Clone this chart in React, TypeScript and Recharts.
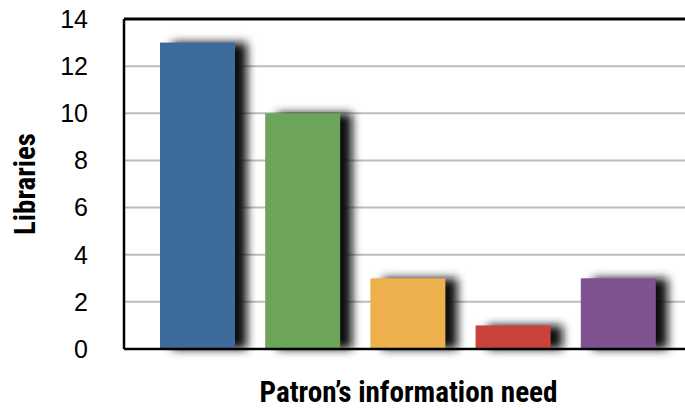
import { BarChart, Bar, XAxis, YAxis, CartesianGrid, ReferenceLine, Cell } from "recharts";

const needs = ["Need A", "Need B", "Need C", "Need D", "Need E"];
const libraries = [13, 10, 3, 1, 3];
const barColors = ["#3c6a9b", "#6ca55a", "#edb04c", "#c9433b", "#7f5290"];
const yTicks = [0, 2, 4, 6, 8, 10, 12, 14];

const data = needs.map((name, i) => ({ name, value: libraries[i] }));

const labelFont = "'Liberation Sans Narrow', 'Roboto Condensed', Roboto, 'Liberation Sans', sans-serif";

function ShadowBar(props: any) {
  const { x, y, width, height, fill } = props;
  return (
    <g>
      <rect x={x} y={y} width={width} height={height} fill="#111" filter="url(#barShadow)" />
      <rect x={x} y={y} width={width} height={height} fill={fill} />
    </g>
  );
}

function XLabel(props: any) {
  const vb = props.viewBox || {};
  return (
    <text
      x={vb.x + vb.width / 2 + 4}
      y={402}
      textAnchor="middle"
      fontFamily={labelFont}
      fontWeight={700}
      fontSize={29}
      textLength={298}
      lengthAdjust="spacingAndGlyphs"
      fill="#000"
    >
      Patron’s information need
    </text>
  );
}

function YLabel() {
  return (
    <text
      x={0}
      y={0}
      transform="translate(35,184) rotate(-90)"
      textAnchor="middle"
      fontFamily={labelFont}
      fontWeight={700}
      fontSize={29}
      textLength={102}
      lengthAdjust="spacingAndGlyphs"
      fill="#000"
    >
      Libraries
    </text>
  );
}

export default function App() {
  return (
    <div style={{ position: "absolute", left: 0, top: 0, background: "#fff" }}>
      <BarChart
        width={685}
        height={408}
        data={data}
        margin={{ top: 19, right: 0, bottom: 0, left: 0 }}
        barSize={75}
      >
        <defs>
          <filter id="barShadow" x="-40%" y="-40%" width="180%" height="180%">
            <feOffset dx="12" dy="0" in="SourceGraphic" result="off" />
            <feGaussianBlur in="off" stdDeviation="5" />
          </filter>
        </defs>
        <CartesianGrid vertical={false} stroke="#bdbdbd" strokeWidth={2} />
        <XAxis
          dataKey="name"
          height={59}
          tick={false}
          tickLine={false}
          axisLine={{ stroke: "#000", strokeWidth: 2.5 }}
          padding={{ left: 21, right: 14 }}
          label={<XLabel />}
        />
        <YAxis
          width={124}
          domain={[0, 14]}
          ticks={yTicks}
          tickLine={false}
          tickSize={0}
          tickMargin={36}
          axisLine={{ stroke: "#000", strokeWidth: 2.5 }}
          tick={{ fill: "#000", fontSize: 25, fontFamily: "'Liberation Sans', Arial, sans-serif" }}
          label={<YLabel />}
        />
        <ReferenceLine y={14} stroke="#000" strokeWidth={3} />
        <Bar dataKey="value" isAnimationActive={false} shape={<ShadowBar />}>
          {data.map((d, i) => (
            <Cell key={d.name} fill={barColors[i]} />
          ))}
        </Bar>
      </BarChart>
    </div>
  );
}
